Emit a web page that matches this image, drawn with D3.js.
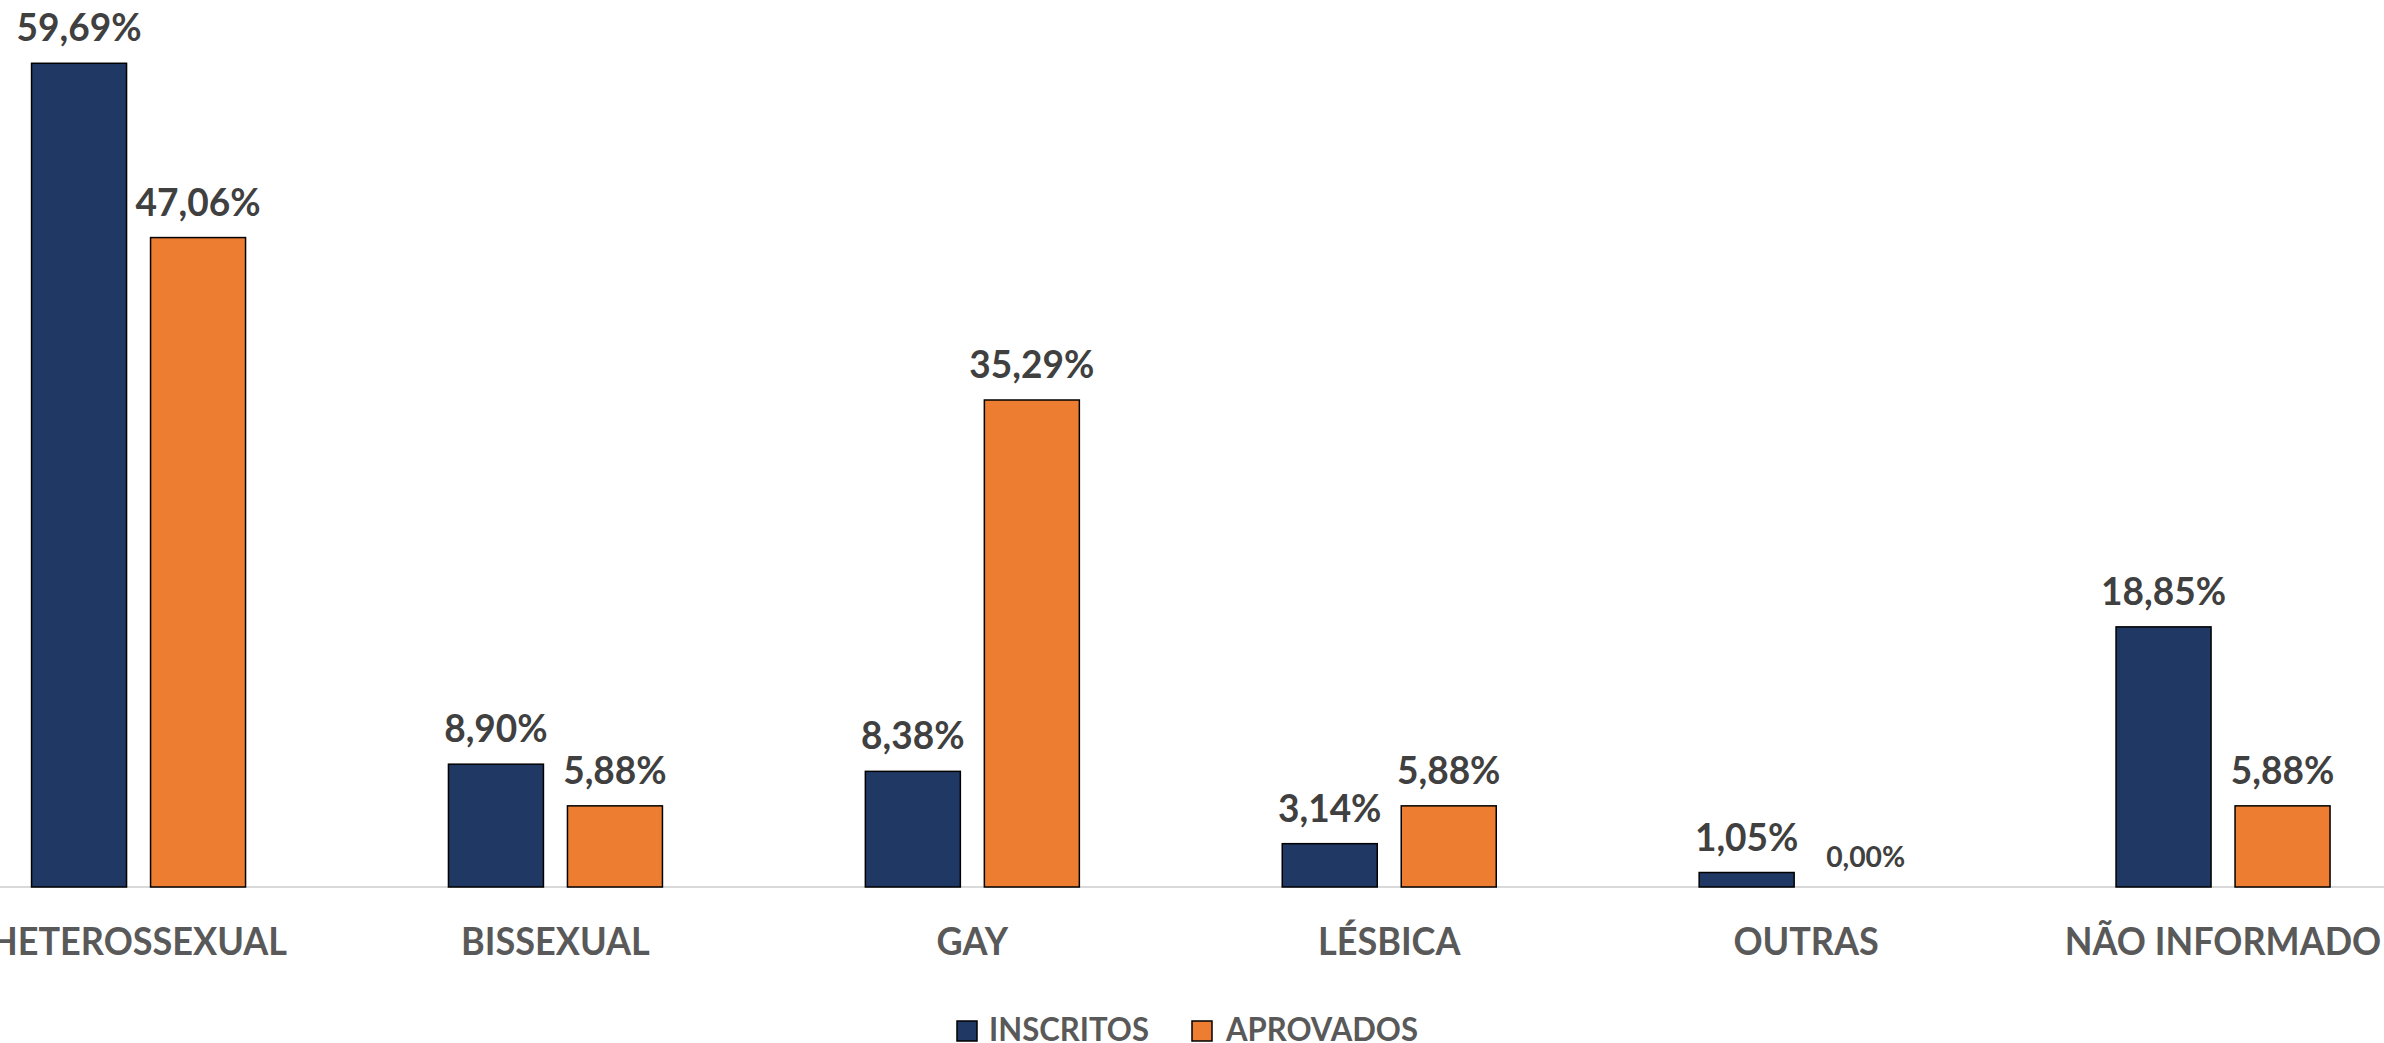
<!DOCTYPE html>
<html>
<head>
<meta charset="utf-8">
<script src="https://cdn.jsdelivr.net/npm/d3@7"></script>
<style>
  html, body { margin: 0; padding: 0; background: #ffffff; overflow: hidden; }
  svg { display: block; }
</style>
</head>
<body>
<script>
const categories = ["HETEROSSEXUAL", "BISSEXUAL", "GAY", "LÉSBICA", "OUTRAS", "NÃO INFORMADO"];
const seriesNames = ["INSCRITOS", "APROVADOS"];
const inscritos = [59.69, 8.90, 8.38, 3.14, 1.05, 18.85];
const aprovados = [47.06, 5.88, 35.29, 5.88, 0.00, 5.88];
const seriesColors = ["#1F3864", "#ED7D31"];

const W = 2384, H = 1043;
const FONT = "Lato, 'Open Sans', 'DejaVu Sans', sans-serif";

const svg = d3.select("body").append("svg").attr("width", W).attr("height", H);

function measure(text, size) {
  const t = svg.append("text").attr("font-family", FONT).attr("font-weight", 700)
    .attr("font-size", size).text(text);
  const w = t.node().getComputedTextLength();
  t.remove();
  return w;
}
// Calibri-like proportions: size by cap height, then condense horizontally
const axisSize = 39, labelSize = 39, zeroSize = 28, legendSize = 32;
const axisK = 297 / measure("HETEROSSEXUAL", axisSize);
const labelK = 125 / measure("59,69%", labelSize);
const zeroK = 79 / measure("0,00%", zeroSize);
const legendK = 160 / measure("INSCRITOS", legendSize);

function condense(sel, k) {
  sel.each(function () {
    const w = this.getComputedTextLength();
    d3.select(this).attr("textLength", w * k).attr("lengthAdjust", "spacingAndGlyphs");
  });
}

const baseY = 887;
const x = d3.scaleBand().domain(categories).range([-69.95, 2431.45]).padding(0);
const xs = d3.scaleBand().domain(seriesNames).range([101.5, 315.5]).paddingInner(0.2017).paddingOuter(0);
const y = d3.scaleLinear().domain([0, 60]).range([baseY, 59]);

const data = [];
categories.forEach((c, i) => {
  data.push({ cat: c, s: seriesNames[0], v: inscritos[i], color: seriesColors[0] });
  data.push({ cat: c, s: seriesNames[1], v: aprovados[i], color: seriesColors[1] });
});

// axis baseline
svg.append("line").attr("x1", 0).attr("x2", W).attr("y1", baseY).attr("y2", baseY)
  .attr("stroke", "#d9d9d9").attr("stroke-width", 2);

// bars
svg.append("g").selectAll("rect").data(data.filter(d => d.v > 0)).join("rect")
  .attr("x", d => x(d.cat) + xs(d.s))
  .attr("y", d => y(d.v))
  .attr("width", xs.bandwidth())
  .attr("height", d => baseY - y(d.v))
  .attr("fill", d => d.color)
  .attr("stroke", "#000000")
  .attr("stroke-width", 1.5);

// data labels
const lbl = svg.append("g").selectAll("text").data(data).join("text")
  .attr("x", d => x(d.cat) + xs(d.s) + xs.bandwidth() / 2)
  .attr("y", d => y(d.v) - (d.v > 0 ? 22 : 20))
  .attr("text-anchor", "middle")
  .attr("font-family", FONT).attr("font-weight", 700)
  .attr("font-size", d => d.v > 0 ? labelSize : zeroSize)
  .attr("fill", "#404040")
  .text(d => d3.format(".2f")(d.v).replace(".", ",") + "%");
condense(lbl.filter(d => d.v > 0), labelK);
condense(lbl.filter(d => d.v === 0), zeroK);

// x axis via d3.axisBottom (no ticks/domain)
const xAxis = svg.append("g").attr("transform", `translate(0,${baseY})`)
  .call(d3.axisBottom(x).tickSize(0).tickPadding(0));
xAxis.select(".domain").remove();
const axT = xAxis.selectAll("text")
  .attr("dy", null)
  .attr("y", 955 - baseY)
  .attr("font-family", FONT).attr("font-weight", 700)
  .attr("font-size", axisSize)
  .attr("fill", "#595959");
condense(axT, axisK);

// legend
const legendItems = [
  { name: seriesNames[0], color: seriesColors[0], sx: 957, tx: 989 },
  { name: seriesNames[1], color: seriesColors[1], sx: 1192, tx: 1226 }
];
const lg = svg.append("g");
legendItems.forEach(it => {
  lg.append("rect").attr("x", it.sx).attr("y", 1021).attr("width", 20).attr("height", 20)
    .attr("fill", it.color).attr("stroke", "#000").attr("stroke-width", 1.5);
  const t = lg.append("text").attr("x", it.tx).attr("y", 1041)
    .attr("font-family", FONT).attr("font-weight", 700).attr("font-size", legendSize)
    .attr("fill", "#595959").text(it.name);
  condense(t, legendK);
});
</script>
</body>
</html>
